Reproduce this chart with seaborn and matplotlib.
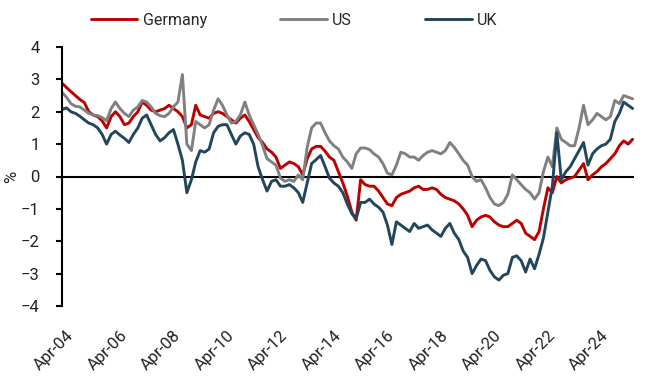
import pandas as pd
import matplotlib
matplotlib.use('Agg')
import matplotlib.pyplot as plt
import matplotlib.dates as mdates
import matplotlib.transforms as mtransforms
from matplotlib import font_manager
import seaborn as sns

# readings every 2 months, Apr-04 .. Aug-25 (rows: Apr, Jun, Aug, Oct, Dec, Feb)
dates = pd.date_range('2004-04-01', '2025-08-01', freq='2MS')

germany = [
    2.88, 2.75, 2.62, 2.50, 2.38, 2.28,
    2.00, 1.90, 1.85, 1.72, 1.50, 1.85,
    2.00, 1.85, 1.60, 1.65, 1.85, 2.00,
    2.30, 2.20, 2.05, 2.00, 2.05, 2.10,
    2.20, 2.10, 2.00, 1.85, 1.50, 1.60,
    2.20, 1.90, 1.85, 1.80, 1.95, 2.00,
    1.95, 1.85, 1.75, 1.65, 1.80, 1.90,
    1.70, 1.45, 1.20, 1.05, 0.85, 0.75,
    0.60, 0.25, 0.35, 0.45, 0.40, 0.30,
    0.05, 0.55, 0.85, 0.93, 0.93, 0.78,
    0.60, 0.50, 0.15, -0.20, -0.60, -1.10,
    -1.35, -0.10, -0.25, -0.30, -0.30, -0.45,
    -0.65, -0.85, -0.90, -0.65, -0.55, -0.50,
    -0.45, -0.35, -0.30, -0.40, -0.40, -0.35,
    -0.40, -0.55, -0.65, -0.70, -0.75, -0.85,
    -1.00, -1.20, -1.55, -1.35, -1.25, -1.20,
    -1.25, -1.40, -1.50, -1.55, -1.55, -1.45,
    -1.35, -1.45, -1.75, -1.85, -1.95, -1.70,
    -1.00, -0.35, -0.50, 0.00, -0.20, -0.10,
    -0.05, 0.00, 0.20, 0.40, -0.10, 0.05,
    0.15, 0.30, 0.40, 0.55, 0.70, 0.95,
    1.10, 1.00, 1.15,
]

us = [
    2.60, 2.45, 2.25, 2.17, 2.15, 2.05,
    1.95, 1.90, 1.88, 1.82, 1.72, 2.10,
    2.30, 2.10, 1.95, 1.85, 2.05, 2.15,
    2.35, 2.30, 2.15, 1.95, 1.88, 1.85,
    1.95, 2.15, 2.30, 3.15, 1.00, 0.80,
    1.70, 1.60, 1.50, 1.60, 2.05, 2.40,
    2.20, 1.90, 1.65, 1.70, 1.90, 2.30,
    1.90, 1.60, 1.30, 0.95, 0.55, 0.45,
    0.35, -0.05, -0.15, -0.10, -0.15, 0.05,
    -0.10, 0.90, 1.50, 1.65, 1.65, 1.35,
    1.10, 0.95, 0.85, 0.60, 0.45, 0.25,
    0.70, 0.88, 0.88, 0.83, 0.70, 0.60,
    0.40, 0.10, 0.05, 0.35, 0.75, 0.70,
    0.60, 0.60, 0.50, 0.65, 0.75, 0.80,
    0.75, 0.70, 0.80, 1.05, 0.90, 0.70,
    0.50, 0.35, 0.00, -0.15, -0.10, -0.35,
    -0.65, -0.85, -0.90, -0.80, -0.55, 0.05,
    -0.10, -0.25, -0.40, -0.50, -0.70, -0.50,
    0.15, 0.60, 0.30, 1.50, 1.15, 1.05,
    0.95, 0.95, 1.50, 2.20, 1.60, 1.75,
    1.95, 1.85, 1.75, 1.85, 2.35, 2.25,
    2.50, 2.45, 2.40,
]

uk = [
    2.07, 2.12, 2.00, 1.95, 1.86, 1.75,
    1.65, 1.60, 1.50, 1.30, 1.00, 1.30,
    1.40, 1.28, 1.18, 1.05, 1.30, 1.50,
    1.80, 1.90, 1.60, 1.30, 1.10, 1.20,
    1.35, 1.45, 1.00, 0.50, -0.50, -0.10,
    0.45, 0.80, 0.75, 0.85, 1.35, 1.55,
    1.60, 1.60, 1.30, 1.00, 1.25, 1.35,
    1.30, 1.00, 0.30, -0.10, -0.45, -0.15,
    -0.10, -0.30, -0.30, -0.25, -0.35, -0.50,
    -0.80, -0.20, 0.40, 0.52, 0.65, 0.30,
    -0.05, -0.20, -0.30, -0.50, -0.85, -1.15,
    -1.30, -0.80, -0.80, -0.70, -0.85, -0.95,
    -1.10, -1.50, -2.10, -1.40, -1.50, -1.60,
    -1.70, -1.45, -1.60, -1.55, -1.50, -1.65,
    -1.75, -1.85, -1.60, -1.45, -1.75, -1.95,
    -2.30, -2.50, -3.00, -2.75, -2.55, -2.60,
    -2.90, -3.10, -3.20, -3.05, -3.00, -2.50,
    -2.45, -2.60, -2.95, -2.55, -2.85, -2.40,
    -1.90, -1.10, -0.30, 1.35, -0.10, 0.15,
    0.30, 0.55, 0.80, 1.05, 0.35, 0.70,
    0.85, 0.95, 1.00, 1.15, 1.70, 1.95,
    2.30, 2.20, 2.10,
]

countries = ['Germany', 'US', 'UK']
colors = {'Germany': '#c00000', 'US': '#808080', 'UK': '#22465c'}
tick_dates = pd.date_range('2004-04-01', '2024-04-01', freq='24MS')

df = pd.DataFrame({'date': dates, 'Germany': germany, 'US': us, 'UK': uk})
long_df = df.melt(id_vars='date', var_name='country', value_name='value')

sns.set_style('white')
installed = {f.name for f in font_manager.fontManager.ttflist}
font = 'Liberation Sans Narrow' if 'Liberation Sans Narrow' in installed else 'Roboto'
plt.rcParams['font.family'] = [font, 'DejaVu Sans']

fig = plt.figure(figsize=(6.61, 3.85), dpi=100)
ax = fig.add_axes([62 / 661, 1 - 306 / 385, (634 - 62) / 661, (306 - 47) / 385])

sns.lineplot(data=long_df, x='date', y='value', hue='country', hue_order=countries,
             palette=colors, linewidth=2.1, ax=ax)
ax.axhline(0, color='black', lw=1.5, zorder=1.5)

ax.set_xlim(pd.Timestamp('2004-04-01'), pd.Timestamp('2025-08-20'))
ax.set_ylim(-4, 4)
ax.set_yticks(range(-4, 5))
ax.set_xticks(tick_dates)
ax.xaxis.set_major_formatter(mdates.DateFormatter('%b-%y'))

ax.set_xlabel('')
ax.set_ylabel('%', fontsize=12, color='#222222')
ax.yaxis.set_label_coords(-0.075, 0.5)

for s in ['top', 'right', 'bottom']:
    ax.spines[s].set_visible(False)
ax.spines['left'].set_color('black')
ax.spines['left'].set_linewidth(1.5)

ax.tick_params(axis='y', left=True, length=4, width=1.5, color='black',
               pad=12, labelsize=12, labelcolor='#222222')
ax.tick_params(axis='x', bottom=False, length=0, pad=16, labelsize=12,
               labelcolor='#222222')
shift = mtransforms.ScaledTranslation(4 / 100, 0, fig.dpi_scale_trans)
for lab in ax.get_xticklabels():
    lab.set_rotation(45)
    lab.set_ha('right')
    lab.set_va('top')
    lab.set_rotation_mode('anchor')
    lab.set_transform(lab.get_transform() + shift)

handles, labels = ax.get_legend_handles_labels()
ax.legend(handles, labels, loc='center', bbox_to_anchor=(0.445, 0.947),
          bbox_transform=fig.transFigure, ncol=3, frameon=False,
          handlelength=2.9, handletextpad=0.35, columnspacing=4.6,
          fontsize=11.5)
for line in ax.get_legend().get_lines():
    line.set_linewidth(2.1)

fig.savefig('out.png', dpi=100)
